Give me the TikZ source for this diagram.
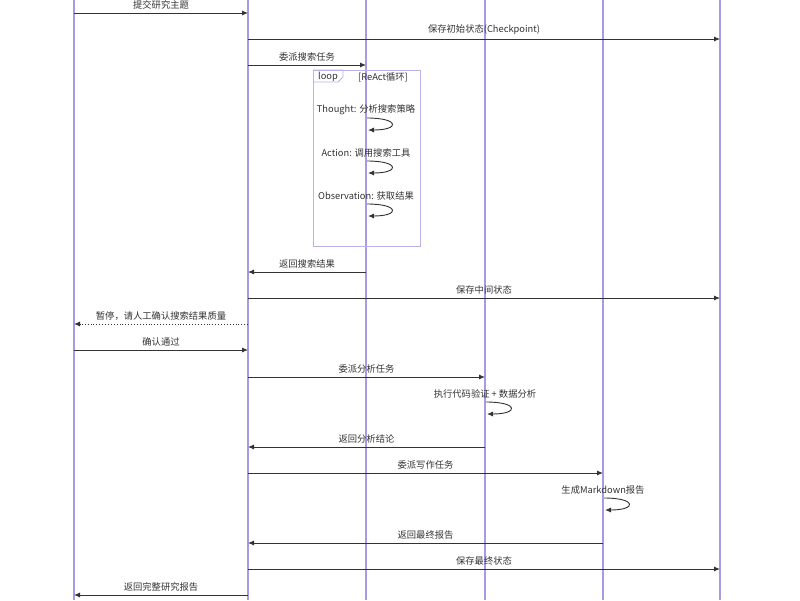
\documentclass[tikz,border=0pt]{standalone}
\usepackage{fontspec}
\newfontfamily\cjk{Noto Sans CJK SC}
\usetikzlibrary{arrows.meta}
\definecolor{lifec}{RGB}{165,155,232}
\definecolor{msgc}{RGB}{51,51,51}
\definecolor{loopc}{RGB}{185,178,235}
\tikzset{
  life/.style={draw=lifec, line width=1.3pt},
  msg/.style={draw=msgc, line width=0.9pt, -{Latex[length=6pt,width=5pt]}},
  lbl/.style={font=\cjk\fontsize{9.3}{11}\selectfont, text=msgc, inner sep=0pt},
  selfarrow/.style={draw=msgc, line width=0.9pt, -{Latex[length=6pt,width=5pt]}},
  loopbox/.style={draw=loopc, line width=0.9pt},
}
\newcommand\msgline[6]{%
  \coordinate (#1s) at (#2,#4);
  \coordinate (#1e) at (#3,#4);
  \draw[msg,#6] (#1s) -- (#1e) node[lbl, midway, above=3.5pt] (#1l) {#5};
}
\newcommand\selfmsg[4]{%
  \node[lbl] (#1l) at (#2,#3) {#4};
  \coordinate (#1s) at (#2+1,#3+8);
  \coordinate (#1e) at (#2+2,#3+20);
  \draw[selfarrow] (#1s) .. controls (#2+34,#3+8) and (#2+34,#3+20) .. (#1e);
}
\begin{document}
\begin{tikzpicture}[x=1pt,y=-1pt]
\useasboundingbox (0,0) rectangle (800,600);
\fill[white] (0,0) rectangle (800,600);
% lifelines
\foreach \n/\x in {a/74,b/248,c/366,d/485,e/603,f/720}{
  \coordinate (\n top) at (\x,0);
  \coordinate (\n bot) at (\x,600);
  \draw[life] (\n top) -- (\n bot);
}
% loop frame
\draw[loopbox] (313,70) rectangle (420,246);
\draw[loopbox] (313,70) -- (343,70) -- (343,77) -- (338,82) -- (313,82);
\node[lbl] (looplbl) at (328,76.5) {loop};
\node[lbl] (looptitle) at (383,77) {[ReAct循环]};
% messages
\msgline{m1}{74}{248}{13}{提交研究主题}{}
\msgline{m2}{248}{720}{39}{保存初始状态(Checkpoint)}{}
\msgline{m3}{248}{366}{65}{委派搜索任务}{}
\selfmsg{s1}{366}{110}{Thought: 分析搜索策略}
\selfmsg{s2}{366}{153}{Action: 调用搜索工具}
\selfmsg{s3}{366}{196}{Observation: 获取结果}
\msgline{m4}{366}{248}{272}{返回搜索结果}{}
\msgline{m5}{248}{720}{298}{保存中间状态}{}
\msgline{m6}{248}{74}{324}{暂停，请人工确认搜索结果质量}{dotted}
\msgline{m7}{74}{248}{350}{确认通过}{}
\msgline{m8}{248}{485}{377}{委派分析任务}{}
\selfmsg{s4}{485}{394}{执行代码验证 + 数据分析}
\msgline{m9}{485}{248}{447}{返回分析结论}{}
\msgline{m10}{248}{603}{473}{委派写作任务}{}
\selfmsg{s5}{603}{490}{生成Markdown报告}
\msgline{m11}{603}{248}{543}{返回最终报告}{}
\msgline{m12}{248}{720}{569}{保存最终状态}{}
\msgline{m13}{248}{74}{595}{返回完整研究报告}{}
\end{tikzpicture}
\end{document}
